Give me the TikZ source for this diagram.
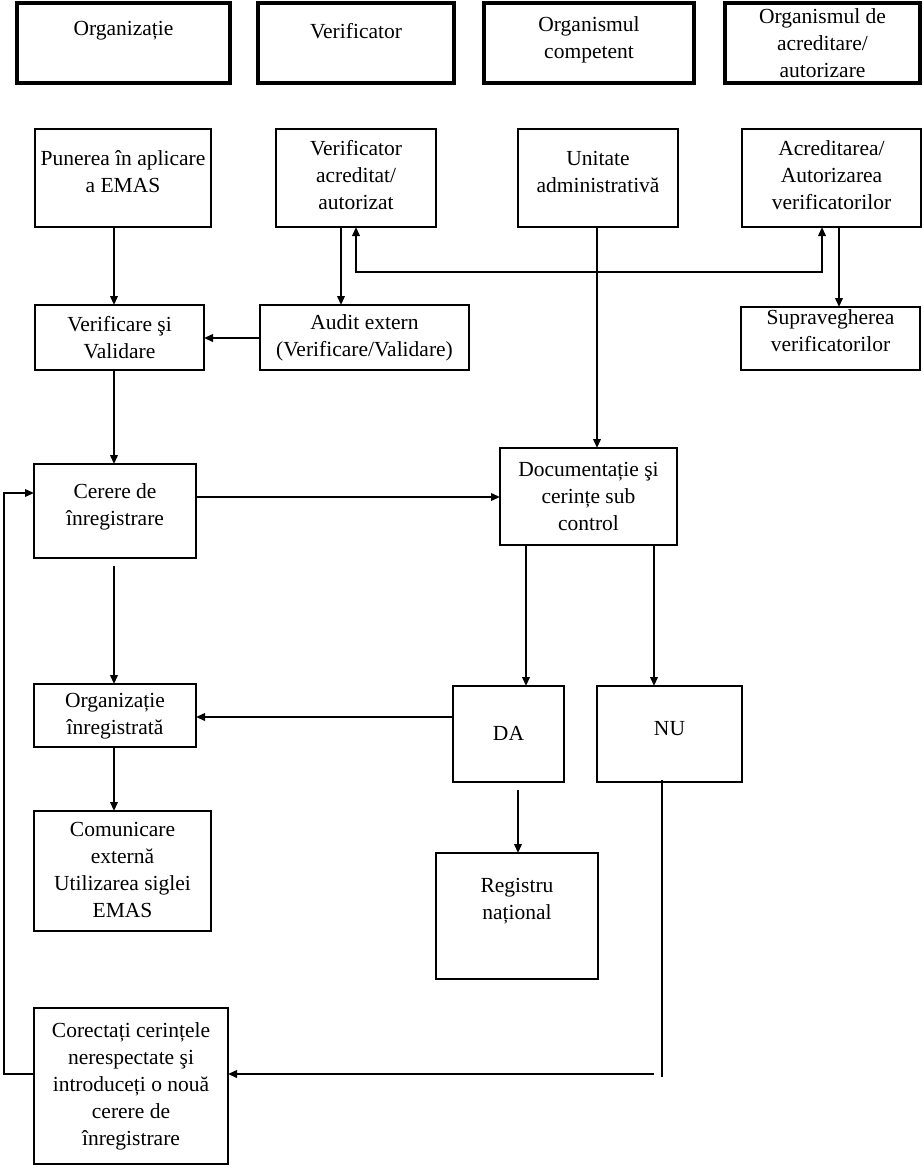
\documentclass[tikz,border=0pt]{standalone}
\usepackage{fontspec}
\setmainfont{Liberation Serif}
\usetikzlibrary{arrows.meta,calc}
\tikzset{
  box/.style={draw, line width=2pt, rectangle, inner sep=0pt, outer sep=0pt},
  hbox/.style={draw, line width=3.8pt, rectangle, inner sep=0pt, outer sep=0pt},
  txt/.style={align=center, inner sep=0pt, font=\fontsize{21.5}{27}\selectfont},
  conn/.style={line width=2pt},
  arr/.style={line width=2pt, -{Triangle[length=9pt,width=7.5pt]}},
  arrtwo/.style={line width=2pt, {Triangle[length=9pt,width=7.5pt]}-{Triangle[length=9pt,width=7.5pt]}}
}
% #1 style, #2 name, #3 x1, #4 y1, #5 x2, #6 y2, #7 text y, #8 text
\newcommand\bx[8]{%
  \node[#1, minimum width={#5pt-#3pt}, minimum height={#6pt-#4pt}] (#2) at ({(#3+#5)/2},{(#4+#6)/2}) {};
  \node[txt] (#2-t) at ({(#3+#5)/2},#7) {#8};
}
\begin{document}
\begin{tikzpicture}[x=1pt,y=-1pt]
\useasboundingbox (0,0) rectangle (924,1168);
% header row
\bx{hbox}{H1}{17}{3}{230}{83}{31}{Organizație}
\bx{hbox}{H2}{258}{3}{454}{83}{31}{Verificator}
\bx{hbox}{H3}{484}{3}{694}{83}{40}{Organismul\\competent}
\bx{hbox}{H4}{725}{3}{920}{83}{43}{Organismul de\\acreditare/\\autorizare}
% second row
\bx{box}{A}{35}{129}{211}{227}{172}{Punerea în aplicare\\a EMAS}
\bx{box}{B}{276}{129}{436}{227}{175}{Verificator\\acreditat/\\autorizat}
\bx{box}{C}{518}{129}{678}{227}{172}{Unitate\\administrativă}
\bx{box}{D}{742}{129}{921}{227}{175}{Acreditarea/\\Autorizarea\\verificatorilor}
% third row
\bx{box}{E}{35}{305}{204}{370}{338}{Verificare şi\\Validare}
\bx{box}{F}{260}{305}{469}{370}{338}{Audit extern\\(Verificare/Validare)}
\bx{box}{G}{741}{307}{920}{370}{331}{Supravegherea\\verificatorilor}
% fourth row
\bx{box}{Cer}{34}{464}{196}{558}{507}{Cerere de\\înregistrare}
\bx{box}{Doc}{500}{448}{677}{545}{496}{Documentație şi\\cerințe sub\\control}
% fifth row
\bx{box}{OrgI}{34}{684}{196}{747}{716}{Organizație\\înregistrată}
\bx{box}{DA}{453}{686}{564}{782}{733}{DA}
\bx{box}{NU}{597}{686}{742}{782}{729}{NU}
% lower boxes
\bx{box}{Com}{34}{811}{211}{931}{870}{Comunicare\\externă\\Utilizarea siglei\\EMAS}
\bx{box}{Reg}{436}{853}{598}{979}{901}{Registru\\național}
\bx{box}{Cor}{34}{1008}{228}{1164}{1086}{Corectați cerințele\\nerespectate şi\\introduceți o nouă\\cerere de\\înregistrare}
% free ends
\coordinate (nuend) at (662,1077);
\coordinate (hstart) at (654,1074);
\coordinate (loopA) at (4,1074);
\coordinate (loopB) at (4,493);
\coordinate (midL) at (356,272);
\coordinate (midR) at (822,272);
% connectors
\draw[arr] (114,0 |- A.south) -- (114,0 |- E.north);
\draw[arr] (341,0 |- B.south) -- (341,0 |- F.north);
\draw[arr] (F.west |- 0,338) -- (E.east |- 0,338);
\draw[arrtwo] (356,0 |- B.south) -- (midL) -- (midR) -- (822,0 |- D.south);
\draw[arr] (839,0 |- D.south) -- (839,0 |- G.north);
\draw[arr] (597,0 |- C.south) -- (597,0 |- Doc.north);
\draw[arr] (114,0 |- E.south) -- (114,0 |- Cer.north);
\draw[arr] (Cer.east |- 0,497) -- (Doc.west |- 0,497);
\draw[arr] ([yshift=-8pt]114,0 |- Cer.south) -- (114,0 |- OrgI.north);
\draw[arr] (526,0 |- Doc.south) -- (526,0 |- DA.north);
\draw[arr] (654,0 |- Doc.south) -- (654,0 |- NU.north);
\draw[arr] (DA.west |- 0,717) -- (OrgI.east |- 0,717);
\draw[arr] (114,0 |- OrgI.south) -- (114,0 |- Com.north);
\draw[arr] ([yshift=-8pt]518,0 |- DA.south) -- (518,0 |- Reg.north);
\draw[conn] ([yshift=2pt]662,0 |- NU.south) -- (nuend);
\draw[arr] (hstart) -- (Cor.east |- hstart);
\draw[arr] (Cor.west |- loopA) -- (loopA) -- (loopB) -- (Cer.west |- loopB);
\end{tikzpicture}
\end{document}
